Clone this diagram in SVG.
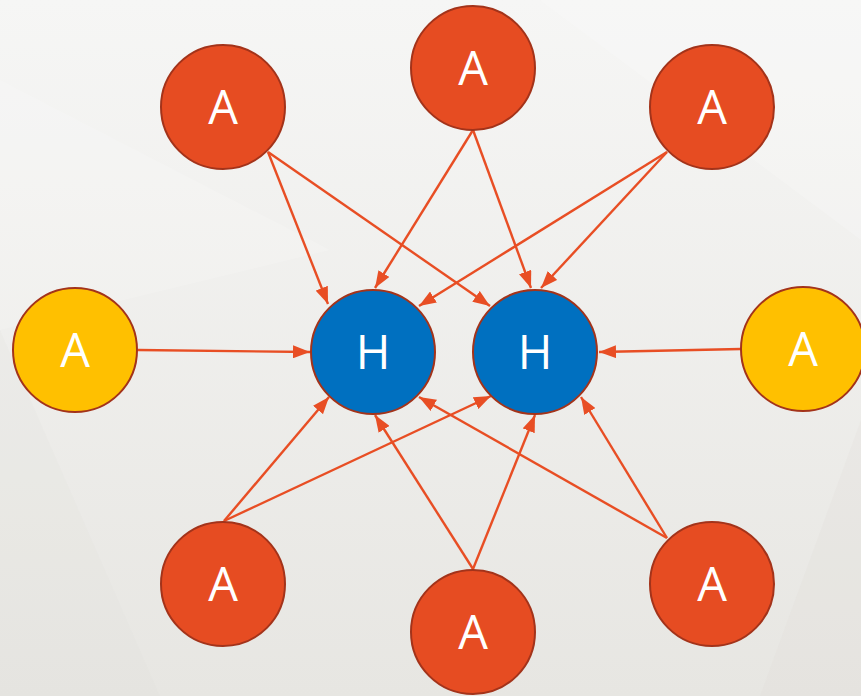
<svg xmlns="http://www.w3.org/2000/svg" width="861" height="696" viewBox="0 0 861 696">
  <defs>
    <linearGradient id="bg" x1="0" y1="0" x2="0" y2="1">
      <stop offset="0" stop-color="#f6f6f5"/>
      <stop offset="1" stop-color="#e7e6e2"/>
    </linearGradient>
    <marker id="arrow" viewBox="0 0 17 13" refX="17" refY="6.5" markerWidth="17" markerHeight="13" markerUnits="userSpaceOnUse" orient="auto">
      <path d="M0,0 L17,6.5 L0,13 z" fill="#e84e24"/>
    </marker>
    <style>
      .edge { stroke: #e84e24; stroke-width: 2.4; fill: none; marker-end: url(#arrow); }
      .node circle { stroke: #a3331a; stroke-width: 2; }
      .red circle { fill: #e64c22; }
      .gold circle { fill: #ffc000; }
      .blue circle { fill: #0070c0; }
      .node text { fill: #ffffff; font-family: "Open Sans", "Liberation Sans", sans-serif; font-size: 47px; text-anchor: middle; }
    </style>
  </defs>

  <!-- background with faint facets -->
  <rect width="861" height="696" fill="url(#bg)"/>
  <polygon points="0,80 330,250 0,330" fill="#ffffff" opacity="0.15"/>
  <polygon points="0,330 160,696 0,696" fill="#dedcd7" opacity="0.15"/>
  <polygon points="540,0 861,0 861,240" fill="#ffffff" opacity="0.18"/>
  <polygon points="760,696 861,420 861,696" fill="#dcdad5" opacity="0.18"/>

  <!-- connectors -->
  <g id="edges">
    <line class="edge" x1="268" y1="152" x2="328" y2="304"/>
    <line class="edge" x1="268" y1="152" x2="490" y2="306"/>
    <line class="edge" x1="473" y1="130" x2="375" y2="288"/>
    <line class="edge" x1="473" y1="130" x2="531" y2="288"/>
    <line class="edge" x1="667" y1="152" x2="419" y2="306"/>
    <line class="edge" x1="667" y1="152" x2="541" y2="288"/>
    <line class="edge" x1="138" y1="350" x2="310" y2="352"/>
    <line class="edge" x1="741" y1="349" x2="599" y2="352"/>
    <line class="edge" x1="224" y1="521" x2="329" y2="397"/>
    <line class="edge" x1="224" y1="521" x2="491" y2="396"/>
    <line class="edge" x1="473" y1="569" x2="375" y2="415"/>
    <line class="edge" x1="473" y1="569" x2="535" y2="415"/>
    <line class="edge" x1="667" y1="538" x2="419" y2="397"/>
    <line class="edge" x1="667" y1="538" x2="581" y2="397"/>
  </g>

  <!-- nodes -->
  <g id="a-top-left" class="node red"><circle cx="223" cy="107" r="62"/><text x="223" y="124">A</text></g>
  <g id="a-top" class="node red"><circle cx="473" cy="68" r="62"/><text x="473" y="85">A</text></g>
  <g id="a-top-right" class="node red"><circle cx="712" cy="107" r="62"/><text x="712" y="124">A</text></g>
  <g id="a-left" class="node gold"><circle cx="75" cy="350" r="62"/><text x="75" y="367">A</text></g>
  <g id="a-right" class="node gold"><circle cx="803" cy="349" r="62"/><text x="803" y="366">A</text></g>
  <g id="h-left" class="node blue"><circle cx="373" cy="352" r="62"/><text x="373" y="369">H</text></g>
  <g id="h-right" class="node blue"><circle cx="535" cy="352" r="62"/><text x="535" y="369">H</text></g>
  <g id="a-bottom-left" class="node red"><circle cx="223" cy="584" r="62"/><text x="223" y="601">A</text></g>
  <g id="a-bottom" class="node red"><circle cx="473" cy="632" r="62"/><text x="473" y="649">A</text></g>
  <g id="a-bottom-right" class="node red"><circle cx="712" cy="584" r="62"/><text x="712" y="601">A</text></g>
</svg>
